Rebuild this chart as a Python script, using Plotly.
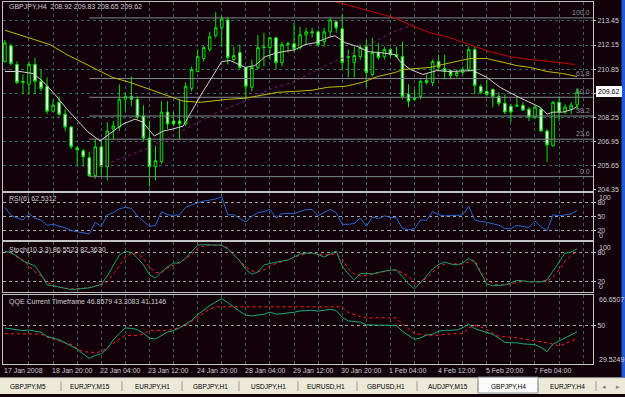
import plotly.graph_objects as go

# ---------------- data ----------------
bars = list(range(96))
opens = [211.26, 212.11, 211.10, 210.13, 210.03, 211.10, 210.19, 209.92, 208.58, 209.06,
         208.42, 207.73, 206.60, 206.44, 206.07, 205.10, 206.66, 205.59, 207.62, 207.73,
         209.22, 209.38, 209.22, 208.31, 207.14, 205.59, 205.85, 208.53, 208.05, 208.05,
         207.89, 209.81, 210.72, 211.42, 211.90, 212.65, 213.08, 213.50, 211.36, 211.74,
         210.94, 209.87, 210.94, 212.01, 212.01, 212.54, 211.20, 212.17, 212.22, 212.01,
         212.70, 212.86, 212.86, 212.33, 212.86, 213.40, 213.02, 211.52, 211.20, 211.52,
         212.06, 210.56, 211.74, 211.52, 211.90, 211.63, 211.52, 209.49, 209.28, 209.38,
         210.24, 210.13, 211.26, 210.88, 210.77, 210.51, 210.67, 210.83, 211.90, 209.92,
         209.65, 209.76, 209.38, 209.01, 208.85, 208.85, 208.90, 208.69, 208.26, 208.69,
         207.51, 206.71, 209.06, 208.53, 208.69, 208.92]
highs = [212.43, 212.22, 211.26, 210.56, 211.26, 211.47, 210.83, 210.40, 209.22, 209.38,
         208.69, 207.78, 206.71, 206.55, 206.39, 207.08, 207.00, 207.99, 208.05, 210.03,
         209.60, 210.45, 209.38, 208.90, 208.05, 206.71, 209.12, 209.12, 208.53, 209.22,
         210.13, 210.99, 211.90, 212.11, 212.86, 213.93, 213.72, 213.66, 212.06, 212.17,
         210.99, 211.36, 212.70, 212.81, 212.59, 212.59, 212.33, 212.33, 213.34, 213.13,
         213.08, 213.08, 212.97, 213.08, 213.61, 213.50, 213.83, 211.90, 212.06, 212.17,
         212.43, 212.54, 212.27, 212.06, 212.01, 212.06, 212.33, 210.03, 209.76, 210.29,
         210.56, 211.36, 211.63, 211.63, 210.83, 210.83, 210.99, 212.06, 212.06, 210.03,
         210.29, 209.80, 209.60, 209.49, 208.96, 209.38, 209.06, 208.80, 208.90, 208.80,
         207.62, 209.12, 209.38, 208.96, 209.06, 209.83]
lows = [211.20, 211.04, 210.03, 209.49, 209.49, 209.49, 209.65, 208.42, 208.53, 208.31,
        207.51, 206.55, 205.64, 205.59, 205.05, 204.94, 205.05, 204.84, 207.08, 207.51,
        208.58, 208.85, 208.15, 206.98, 204.52, 204.84, 205.75, 207.62, 207.78, 207.08,
        207.78, 209.65, 210.67, 211.26, 211.79, 212.54, 212.06, 211.10, 211.26, 210.83,
        209.22, 209.65, 210.83, 210.99, 211.36, 210.83, 210.99, 211.74, 211.79, 211.90,
        212.17, 212.54, 212.06, 212.06, 212.59, 212.81, 210.83, 210.40, 210.40, 211.36,
        209.87, 210.45, 211.36, 211.36, 211.47, 211.47, 209.22, 208.80, 209.12, 209.22,
        210.03, 209.92, 210.77, 210.29, 210.29, 210.40, 210.56, 210.72, 209.49, 209.49,
        209.38, 208.80, 208.85, 208.42, 207.99, 208.80, 208.58, 208.05, 208.15, 207.46,
        205.85, 206.66, 208.05, 208.42, 208.42, 208.65]
closes = [212.27, 211.15, 210.13, 210.19, 211.10, 210.19, 209.81, 208.58, 208.90, 208.42,
          207.73, 206.66, 206.50, 206.12, 205.10, 206.66, 205.59, 207.51, 207.78, 209.22,
          209.38, 209.22, 208.26, 207.14, 205.59, 205.91, 208.53, 207.89, 207.89, 207.89,
          209.92, 210.83, 211.52, 212.01, 212.59, 213.08, 213.56, 211.47, 211.58, 210.94,
          209.92, 210.94, 212.01, 212.04, 212.54, 211.20, 212.17, 212.22, 211.95, 212.70,
          212.86, 212.81, 212.17, 212.86, 213.50, 213.08, 211.20, 211.47, 211.58, 212.01,
          210.67, 211.74, 211.47, 211.90, 211.63, 211.52, 209.38, 209.12, 209.22, 210.19,
          210.13, 211.26, 210.94, 210.72, 210.51, 210.67, 210.83, 211.90, 209.97, 209.60,
          209.49, 209.38, 209.01, 208.53, 208.53, 208.90, 208.64, 208.26, 208.80, 207.51,
          206.76, 209.06, 208.53, 208.80, 208.90, 209.62]

# moving averages (bar position, price)
ma_fast_x = [0, 2.5, 4.7, 6.3, 8.3, 10.3, 12.1, 13.8, 15.8, 17.4, 19.6, 21.6, 22.9, 24.8, 26.3,
             27.9, 29.6, 31.2, 32.4, 36.0, 37.4, 39.9, 41.5, 43.2, 45.3, 48.2, 49.8, 51.5, 53.6,
             54.8, 56.5, 58.6, 60.3, 62.3, 64.8, 65.6, 67.3, 69.4, 71.7, 73.9, 76.1, 77.7, 80.0,
             82.2, 85.0, 87.2, 88.8, 90.0, 91.0, 92.6, 94.3, 95.0]
ma_fast_y = [210.72, 210.72, 210.61, 210.19, 209.49, 208.69, 208.05, 207.46, 206.98, 207.35,
             207.89, 208.15, 207.99, 207.24, 207.51, 207.62, 207.78, 208.69, 209.38, 211.26,
             211.31, 210.94, 211.04, 211.52, 211.74, 211.90, 212.17, 212.27, 212.54, 212.65,
             212.27, 212.06, 211.79, 211.74, 211.63, 211.26, 210.83, 210.56, 210.77, 210.72,
             210.77, 210.77, 210.40, 209.87, 209.38, 209.06, 208.80, 208.42, 208.53, 208.53,
             208.69, 208.85]
ma_mid_x = [0, 2.5, 4.7, 7.5, 10.3, 13.0, 15.8, 17.9, 20.8, 23.6, 26.2, 27.9, 29.6, 32.4, 37.0,
            39.9, 42.7, 45.3, 48.2, 51.0, 53.6, 56.5, 59.3, 61.9, 64.8, 66.1, 68.4, 70.6, 72.7,
            75.1, 77.2, 80.0, 82.2, 85.0, 87.2, 90.0, 92.6, 95.0]
ma_mid_y = [212.95, 212.70, 212.49, 212.17, 211.63, 211.20, 210.72, 210.40, 210.13, 209.81,
            209.49, 209.33, 209.12, 209.06, 209.22, 209.28, 209.44, 209.60, 209.65, 209.71,
            209.87, 209.92, 210.13, 210.45, 210.67, 210.83, 210.88, 210.94, 211.10, 211.26,
            211.42, 211.42, 211.26, 211.04, 210.94, 210.72, 210.61, 210.45]
ma_slow_x = [49.0, 55.1, 59.3, 64.8, 67.2, 70.6, 73.9, 77.2, 80.5, 83.9, 87.2, 90.5, 94.6]
ma_slow_y = [215.00, 214.47, 214.09, 213.61, 213.24, 212.81, 212.54, 212.17, 211.79, 211.52,
             211.36, 211.26, 211.10]
ma_dot_x = [15.8, 23.6, 28.2, 31.6, 35.4, 39.9, 44.3, 47.7, 50.3, 54.3, 58.1, 61.4, 64.4, 67.8]
ma_dot_y = [205.60, 206.57, 207.32, 207.91, 208.55, 209.12, 209.81, 210.13, 210.56, 211.20,
            211.74, 212.33, 212.86, 213.24]

rsi = [68.9, 52, 46.7, 42.2, 55.6, 46, 42.2, 31.1, 33.3, 29,
       26, 20, 17.8, 16, 13.3, 37.8, 28.9, 53.3, 58, 66,
       68.9, 66.7, 51.1, 40, 28.9, 31.1, 60.0, 53.3, 52, 53.3,
       68.9, 74, 77.8, 82.2, 84, 86.7, 91.1, 53.3, 53.3, 46,
       37.8, 50, 58, 60, 64.4, 46.7, 55.6, 56, 55.6, 60,
       64.4, 64.4, 51.1, 58, 64.4, 57.8, 33.3, 33.3, 35, 46.7,
       28.9, 48.9, 45, 51.1, 48, 46.7, 24.4, 22, 24.4, 42.2,
       42, 60.0, 53.3, 51, 51.1, 52, 53.3, 71.1, 42.2, 39,
       37.8, 34, 31.1, 24.4, 24, 31.1, 28.9, 26.7, 40, 28,
       20, 53.3, 51.1, 53.3, 55, 62.53]
stoch_main = [82, 79, 72, 62, 57, 52, 35, 14, 12, 10,
              7, 4, 5, 7, 8, 11, 15, 32, 52, 74,
              82, 79, 68, 54, 34, 28, 40, 50, 58, 58,
              68, 82, 94, 95, 94, 94, 94, 86, 74, 62,
              45, 35, 40, 54, 57, 60, 62, 64, 70, 76,
              78, 78, 75, 70, 76, 82, 52, 36, 24, 37,
              37, 36, 39, 42, 44, 44, 30, 16, 6, 18,
              32, 46, 55, 60, 56, 54, 58, 67, 60, 38,
              16, 12, 13, 14, 18, 23, 22, 20, 20, 20,
              24, 42, 62, 78, 80, 86.55]
stoch_signal = [82, 78, 70, 64, 52, 40, 32, 20, 12, 9,
                7, 6, 6, 7, 9, 11, 14, 20, 35, 52,
                70, 78, 76, 67, 50, 39, 38, 48, 54, 60,
                66, 76, 88, 92, 94, 94, 94, 88, 76, 62,
                50, 42, 40, 44, 52, 57, 60, 64, 70, 74,
                77, 78, 76, 74, 75, 76, 66, 46, 36, 32,
                33, 36, 38, 41, 43, 44, 38, 32, 18, 18,
                28, 40, 50, 56, 57, 56, 56, 60, 64, 40,
                26, 16, 13, 14, 16, 19, 21, 21, 20, 20,
                21, 30, 44, 62, 73, 82.36]
qqe_main = [48.9, 48.4, 47.6, 47.5, 47.8, 47.2, 46.6, 44.4, 43.5, 42.6,
            41, 39.2, 37.6, 35, 32.7, 34.2, 35.1, 38, 42.5, 46,
            48.9, 48.7, 48, 46, 43.5, 43, 45, 46.7, 47.5, 49,
            51, 53, 56, 58.5, 60.9, 62.8, 64.6, 62.4, 60, 57.8,
            55.8, 55.3, 55.8, 56.2, 57.4, 56.3, 56.5, 56.7, 57.3, 58,
            58.3, 58.3, 57.9, 58.5, 58.8, 58.3, 54.5, 52.7, 52.3, 52.0,
            50.6, 50.4, 50.4, 50.4, 50.4, 50.2, 47, 45, 42.8, 43.6,
            45.1, 45.6, 47.2, 47.6, 47.8, 47.8, 49, 51, 48.5, 47.6,
            46.5, 45.5, 43.5, 41.2, 41, 41, 40.4, 40, 40, 38.5,
            36.3, 40.3, 42, 43.5, 45, 46.86]
qqe_signal = [45.9, 45.9, 45.8, 45.8, 45.7, 45.6, 45.6, 44, 42.8, 42,
              41, 40.1, 38, 36.3, 36, 35.8, 36.2, 38.5, 41, 43,
              45, 45, 45, 45.5, 47.6, 47.6, 47.6, 47.6, 48.2, 49.2,
              50.3, 52.5, 55, 57, 59, 60.2, 60.2, 60.2, 60.2, 60.2,
              60.2, 60.2, 60.2, 60.2, 60.2, 60.2, 60.2, 60.2, 60.2, 60.2,
              60.2, 60.2, 60.2, 60.2, 60.2, 60.2, 60.2, 57.2, 56, 55,
              54.3, 54.3, 54.3, 54.3, 54.3, 54.3, 51, 48.5, 46, 45.5,
              45, 45, 45, 45.5, 45.9, 45.9, 45.9, 49, 50.3, 49.5,
              48, 46, 44.5, 44.3, 44.2, 43.6, 43, 42.5, 42.2, 41.6,
              41, 40.2, 39.3, 40.5, 42, 43.31]

fib_levels = [0.0, 23.6, 38.2, 50.0, 61.8, 100.0]
fib_low = 205.05
fib_high = 213.61
fib_start = 14

price_ticks = [204.35, 205.65, 206.95, 208.25, 209.55, 210.85, 212.15, 213.45]
price_labels = ["204.35", "205.65", "206.95", "208.25", "", "210.85", "212.15", "213.45"]
last_price = 209.62

time_label_bars = [0, 8, 16, 24, 32, 40, 48, 56, 64, 72, 80, 88]
time_labels = ["17 Jan 2008", "18 Jan 20:00", "22 Jan 04:00", "23 Jan 12:00", "24 Jan 20:00",
               "28 Jan 04:00", "29 Jan 12:00", "30 Jan 20:00", "1 Feb 04:00", "4 Feb 12:00",
               "5 Feb 20:00", "7 Feb 04:00"]

tabs = ["GBPJPY,M5", "EURJPY,M15", "EURJPY,H1", "GBPJPY,H1", "USDJPY,H1", "EURUSD,H1",
        "GBPUSD,H1", "AUDJPY,M15", "GBPJPY,H4", "EURJPY,H4"]
active_tab = "GBPJPY,H4"

# ---------------- styling ----------------
W, H = 625, 397
BG = "#12000a"
GRID = "#3a6262"
LEVEL = "#a8a8a8"
BORDER = "#c4c4c4"
TXT = "#d0d0d0"
FONT = "Liberation Sans"
GREEN = "#00e400"

def px(x):
    return x / W

def py(y):
    return 1 - y / H

XDOM = [px(3), px(593)]
XR = [-0.315, 97.63]
DOM_MAIN = [py(192), py(2)]
DOM_RSI = [py(242), py(194)]
DOM_STO = [py(294), py(244)]
DOM_QQE = [py(367), py(297)]

grid_bars = list(range(4, 97, 4))

fig = go.Figure()

# fibonacci levels
fib_prices = [fib_low + (fib_high - fib_low) * lv / 100.0 for lv in fib_levels]
for lv, p in zip(fib_levels, fib_prices):
    fig.add_trace(go.Scatter(x=[fib_start, XR[1]], y=[p, p], mode="lines",
                             line=dict(color="#7d8c8c", width=1), xaxis="x", yaxis="y",
                             showlegend=False, hoverinfo="skip"))

fig.add_trace(go.Candlestick(
    x=bars, open=opens, high=highs, low=lows, close=closes,
    increasing=dict(line=dict(color=GREEN, width=1), fillcolor=BG),
    decreasing=dict(line=dict(color=GREEN, width=1), fillcolor="#ffffff"),
    whiskerwidth=0, xaxis="x", yaxis="y", showlegend=False, hoverinfo="skip"))

fig.add_trace(go.Scatter(x=ma_dot_x, y=ma_dot_y, mode="lines",
                         line=dict(color="#7a1a78", width=1, dash="dot"),
                         xaxis="x", yaxis="y", showlegend=False, hoverinfo="skip"))
fig.add_trace(go.Scatter(x=ma_slow_x, y=ma_slow_y, mode="lines",
                         line=dict(color="#c40000", width=1), xaxis="x", yaxis="y",
                         showlegend=False, hoverinfo="skip"))
fig.add_trace(go.Scatter(x=ma_mid_x, y=ma_mid_y, mode="lines",
                         line=dict(color="#bcbc00", width=1), xaxis="x", yaxis="y",
                         showlegend=False, hoverinfo="skip"))
fig.add_trace(go.Scatter(x=ma_fast_x, y=ma_fast_y, mode="lines",
                         line=dict(color="#cfcfcf", width=1), xaxis="x", yaxis="y",
                         showlegend=False, hoverinfo="skip"))

fig.add_trace(go.Scatter(x=bars, y=rsi, mode="lines", line=dict(color="#2a68d0", width=1),
                         xaxis="x2", yaxis="y2", showlegend=False, hoverinfo="skip"))
fig.add_trace(go.Scatter(x=bars, y=stoch_signal, mode="lines",
                         line=dict(color="#ff2020", width=1, dash="dot"),
                         xaxis="x3", yaxis="y3", showlegend=False, hoverinfo="skip"))
fig.add_trace(go.Scatter(x=bars, y=stoch_main, mode="lines", line=dict(color="#1fa070", width=1),
                         xaxis="x3", yaxis="y3", showlegend=False, hoverinfo="skip"))
fig.add_trace(go.Scatter(x=bars, y=qqe_signal, mode="lines",
                         line=dict(color="#ff2020", width=1, dash="dot"),
                         xaxis="x4", yaxis="y4", showlegend=False, hoverinfo="skip"))
fig.add_trace(go.Scatter(x=bars, y=qqe_main, mode="lines", line=dict(color="#20aa7a", width=1),
                         xaxis="x4", yaxis="y4", showlegend=False, hoverinfo="skip"))

tickfont = dict(family=FONT, size=7, color=TXT)

def xaxis(anchor):
    return dict(domain=XDOM, range=XR, anchor=anchor, tickvals=grid_bars,
                showticklabels=False, showgrid=True, gridcolor=GRID, griddash="3px,3px",
                gridwidth=1, showline=True, mirror=True, linecolor=BORDER, linewidth=1,
                zeroline=False, ticks="", fixedrange=True)

def yaxis(anchor, dom, rng, vals, texts, gridc):
    return dict(domain=dom, range=rng, anchor=anchor, side="right", tickvals=vals,
                ticktext=texts, showgrid=True, gridcolor=gridc, griddash="3px,3px",
                gridwidth=1, showline=True, mirror=True, linecolor=BORDER, linewidth=1,
                zeroline=False, ticks="outside", ticklen=2, tickcolor=BORDER,
                tickfont=tickfont, fixedrange=True)

xa = xaxis("y")
xa["rangeslider"] = dict(visible=False)

annotations = []

def note(text, x, y, xanchor="left", size=7, color=TXT, yref="paper", xref="paper",
         yshift=0, xshift=0, yanchor="middle", **kw):
    annotations.append(dict(text=text, x=x, y=y, xref=xref, yref=yref, xanchor=xanchor,
                            yanchor=yanchor, showarrow=False, yshift=yshift, xshift=xshift,
                            font=dict(family=FONT, size=size, color=color), **kw))

note("GBPJPY,H4 \u00a0208.92 209.83 208.65 209.62", px(7), py(7))
note("RSI(6) 62.5312", px(7), py(201))
note("Stoch(10,3,3) 86.5523 82.3630", px(7), py(252))
note("QQE Current Timeframe 46.8579 43.3083 41.1146", px(7), py(304))

# time axis labels (left-aligned at their bar, as MetaTrader draws them)
for b, t in zip(time_label_bars, time_labels):
    note(t, b, py(373), xref="x4", xshift=-3)

# panel extreme labels
lx = px(597)
note("100", lx, 100, yref="y2", yshift=-5)
note("0", lx, 0, yref="y2", yshift=5)
note("100", lx, 100, yref="y3", yshift=-5)
note("0", lx, 0, yref="y3", yshift=5)
note("66.6507", lx, 66.6507, yref="y4", yshift=-5)
note("29.5249", lx, 29.5249, yref="y4", yshift=5)

# fib labels
for lv, p in zip(fib_levels, fib_prices):
    note("%.1f" % lv, px(592), p, xanchor="right", yanchor="bottom", yref="y",
         color="#8a9a9a")

# last price box
note("%.2f" % last_price, px(595.5), last_price, yref="y", color="#000000",
     bgcolor="#ffffff", bordercolor="#ffffff", borderpad=1)

shapes = []
# tab strip
shapes.append(dict(type="rect", xref="paper", yref="paper", x0=0, x1=1, y0=0, y1=py(380),
                   fillcolor="#ece9d8", line=dict(width=0), layer="above"))
shapes.append(dict(type="line", xref="paper", yref="paper", x0=0, x1=1, y0=py(380.5),
                   y1=py(380.5), line=dict(color="#808080", width=1), layer="above"))
tab_edges = [0, 61, 122, 182, 239, 298, 357, 417, 478, 538, 596]
tab_centers = [28, 90, 152, 210, 268, 326, 386, 448, 508, 567]
for t, e0, e1, c in zip(tabs, tab_edges[:-1], tab_edges[1:], tab_centers):
    if t == active_tab:
        shapes.append(dict(type="rect", xref="paper", yref="paper", x0=px(e0), x1=px(e1),
                           y0=py(396), y1=py(380), fillcolor="#fcfcfc",
                           line=dict(color="#8c9498", width=1), layer="above"))
    note(t, px(c), py(389), xanchor="center", size=6.5, color="#000000")
for e in tab_edges[1:]:
    shapes.append(dict(type="line", xref="paper", yref="paper", x0=px(e), x1=px(e),
                       y0=py(394), y1=py(384), line=dict(color="#9a9a9a", width=1),
                       layer="above"))
note("\u25c2", px(604), py(389), xanchor="center", size=7, color="#808080")
note("\u25b8", px(618), py(389), xanchor="center", size=7, color="#808080")
# window frame at the right
shapes.append(dict(type="rect", xref="paper", yref="paper", x0=px(621.5), x1=1,
                   y0=py(380), y1=1, fillcolor="#1f5ad8", line=dict(width=0),
                   layer="above"))

fig.update_layout(
    width=W, height=H, margin=dict(l=0, r=0, t=0, b=0),
    paper_bgcolor=BG, plot_bgcolor=BG, showlegend=False, boxgap=0.4,
    font=dict(family=FONT, size=7, color=TXT),
    xaxis=xa,
    xaxis2=dict(xaxis("y2"), matches="x"),
    xaxis3=dict(xaxis("y3"), matches="x"),
    xaxis4=dict(xaxis("y4"), matches="x"),
    yaxis=yaxis("x", DOM_MAIN, [204.30, 214.47], price_ticks, price_labels, GRID),
    yaxis2=yaxis("x2", DOM_RSI, [0, 100], [20, 50, 80], ["20", "50", "80"], LEVEL),
    yaxis3=yaxis("x3", DOM_STO, [0, 100], [20, 80], ["20", "80"], LEVEL),
    yaxis4=yaxis("x4", DOM_QQE, [29.5249, 66.6507], [50], ["50"], LEVEL),
    annotations=annotations, shapes=shapes,
)

fig.write_html("out.html")
